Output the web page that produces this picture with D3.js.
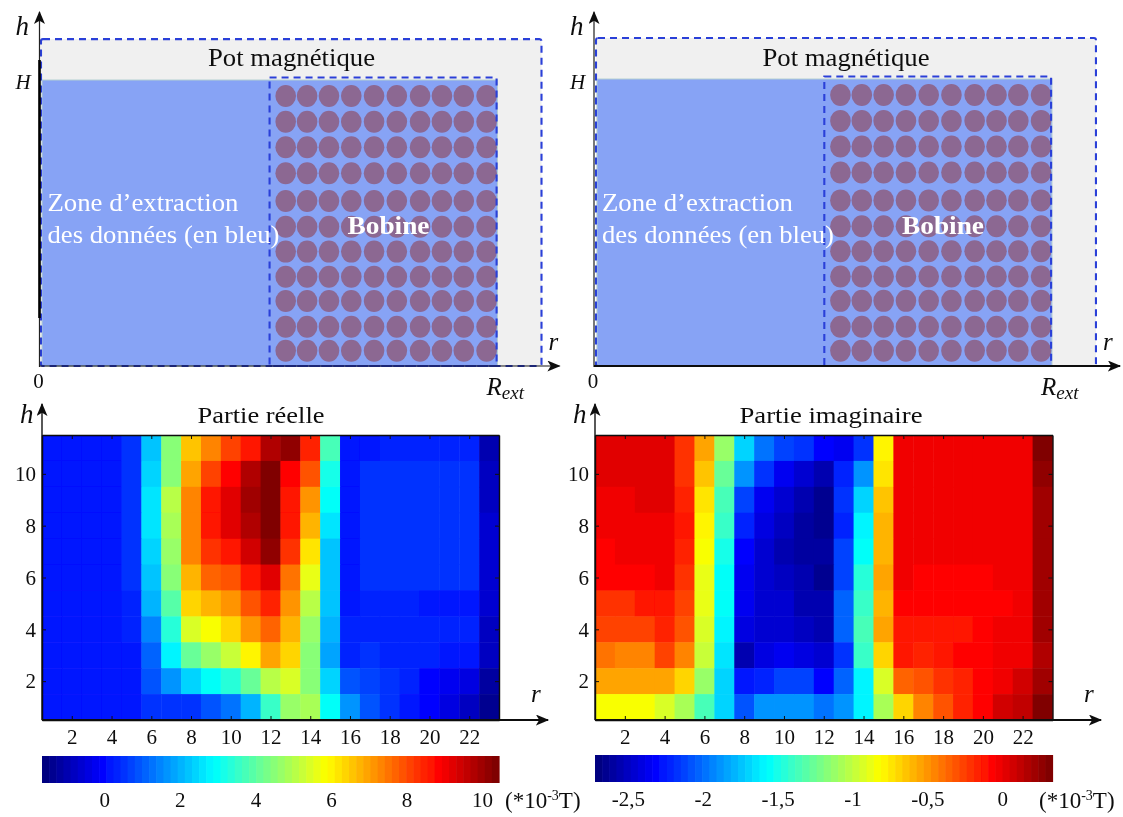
<!DOCTYPE html>
<html><head><meta charset="utf-8">
<script src="https://cdnjs.cloudflare.com/ajax/libs/d3/7.8.5/d3.min.js"></script>
<style>html,body{margin:0;padding:0;background:#fff}svg{display:block}text{font-family:"Liberation Serif",serif;fill:#111}</style>
</head><body><svg id="c" width="1123" height="817" viewBox="0 0 1123 817"></svg>
<script>
// ---- data ----
const columns = d3.range(1, 24);
const rows = d3.range(1, 12);
const xTicks = [2,4,6,8,10,12,14,16,18,20,22];
const yTicks = [2,4,6,8,10];
// rows listed from h=11 (top) to h=1 (bottom)
const realRows = [
[.15,.15,.15,.15,.5,2.2,4.4,6.6,7.4,8,8.7,9.8,10.1,8.5,3.7,.2,.2,.3,.3,.3,.25,.25,-.9],
[.15,.15,.15,.15,.6,2.35,4.4,6.9,8.1,8.9,9.85,10.45,8.9,7.9,3.2,.2,.45,.45,.45,.45,.45,.45,-.75],
[.15,.15,.15,.15,.6,2.6,5,7.3,8.7,9.3,9.9,10.45,8.7,7.2,3,.2,.45,.45,.45,.45,.45,.45,-.8],
[.15,.15,.15,.15,.6,2.6,4.95,7.4,8.6,9.15,9.8,10.4,8.6,6.8,2.6,.2,.45,.45,.45,.45,.45,.45,-.7],
[.15,.15,.15,.15,.6,2.4,4.7,7.25,8.3,8.7,9.4,10.1,8.25,6.2,2.3,.2,.45,.45,.45,.45,.45,.45,-.6],
[.15,.15,.15,.15,.6,2.3,4.4,6.85,7.8,7.9,8.6,9.3,7.6,5.6,2.3,.2,.45,.45,.45,.45,.45,.45,-.6],
[.15,.15,.15,.15,.4,1.95,4,6.3,6.8,7.2,7.85,8.5,7.1,5.1,2.25,.2,.4,.4,.4,.2,.2,.2,-.7],
[.15,.15,.15,.15,.4,1.55,3.45,5.4,5.9,6.35,7.05,7.7,6.75,4.7,1.95,.3,.3,.3,.3,.25,.25,.25,-.75],
[.15,.15,.15,.15,.2,1.15,2.75,4.15,4.7,5.3,6,6.9,6.35,4.55,1.9,.3,.45,.3,.3,.3,.1,.1,-.75],
[.1,.1,.1,.15,.15,.95,1.7,2.45,2.9,3.45,4.15,5.15,5.35,4.55,2.4,.85,.75,.55,.3,0,-.3,-.5,-1.1],
[.1,.1,.2,.2,.2,.45,.45,.6,.95,1.3,2.05,3.55,4.7,4.9,3.05,1.7,.9,.6,.15,0,-.35,-.8,-1.45]
];
const imagRows = [
[.01,.01,.01,.01,-.2,-.57,-1.1,-1.71,-2,-2.11,-2.16,-2.32,-2.37,-2.16,-.8,0,0,0,0,0,0,0,.33],
[.01,.01,.01,.01,-.2,-.65,-1.25,-1.87,-2.19,-2.34,-2.44,-2.57,-2.22,-1.87,-.73,0,0,0,0,0,0,0,.25],
[-.04,-.04,.01,.01,-.17,-.72,-1.34,-2.1,-2.38,-2.48,-2.55,-2.65,-2.16,-1.7,-.65,0,0,0,0,0,0,0,.22],
[-.04,-.04,-.04,-.04,-.14,-.78,-1.43,-2.2,-2.42,-2.5,-2.58,-2.65,-2.2,-1.6,-.6,0,0,0,0,0,0,0,.2],
[-.08,-.03,-.03,-.03,-.15,-.82,-1.5,-2.3,-2.48,-2.53,-2.58,-2.62,-2.12,-1.55,-.6,0,0,-.04,-.04,-.04,0,0,.2],
[-.08,-.08,-.08,-.04,-.2,-.9,-1.57,-2.35,-2.47,-2.5,-2.55,-2.65,-2.1,-1.45,-.53,-.01,-.05,-.05,-.05,-.05,0,0,.2],
[-.2,-.2,-.13,-.13,-.27,-.9,-1.57,-2.37,-2.48,-2.48,-2.53,-2.57,-2.02,-1.4,-.6,-.05,-.05,-.05,-.05,-.05,-.05,0,.2],
[-.25,-.25,-.25,-.15,-.32,-.95,-1.62,-2.42,-2.46,-2.46,-2.5,-2.55,-2.05,-1.38,-.57,-.1,-.1,-.1,-.1,-.05,-.02,0,.2],
[-.4,-.45,-.45,-.28,-.43,-1,-1.65,-2.55,-2.4,-2.36,-2.4,-2.48,-2.15,-1.43,-.7,-.12,-.15,-.13,-.08,-.05,0,-.02,.15],
[-.57,-.57,-.57,-.53,-.67,-1.12,-1.7,-2.28,-2.2,-2.12,-2.12,-2.32,-2.05,-1.62,-.92,-.37,-.3,-.22,-.15,-.05,0,.06,.22],
[-.82,-.82,-.82,-.95,-1.08,-1.34,-1.7,-2.08,-1.87,-1.87,-1.87,-1.98,-1.88,-1.58,-1.06,-.67,-.47,-.3,-.17,-.05,.06,.12,.33]
];
const realDomain = [-1.65, 10.45];
const imagDomain = [-2.72, 0.335];
const realBarTicks = [0,2,4,6,8,10];
const imagBarTicks = [-2.5,-2,-1.5,-1,-0.5,0];
const coilR = [.535,.582,.630,.679,.729,.779,.830,.878,.926,.976];
const coilH = [.944,.854,.765,.674,.577,.487,.400,.312,.227,.137,.053];
const lines1 = ["Zone d’extraction","des données (en bleu)"];

// ---- drawing ----
const svg = d3.select("#c");
const defs = svg.append("defs");
const mk = defs.append("marker").attr("id","arr").attr("viewBox","0 0 12 10").attr("refX",11).attr("refY",5)
  .attr("markerWidth",14).attr("markerHeight",11).attr("markerUnits","userSpaceOnUse").attr("orient","auto");
mk.append("path").attr("d","M0,0 L12,5 L0,10 L3,5 Z").attr("fill","#111");
const soft = defs.append("filter").attr("id","soft").attr("x","-2%").attr("y","-2%").attr("width","104%").attr("height","104%");
soft.append("feGaussianBlur").attr("stdDeviation",0.5);
const root = svg.append("g").attr("filter","url(#soft)");

const jetBase = d3.scaleLinear().domain([0,.125,.375,.625,.875,1])
  .range(["#000080","#0000ff","#00ffff","#ffff00","#ff0000","#800000"]).clamp(true);
const LEVELS = 64;
function jet(domain){
  const t = d3.scaleLinear().domain(domain).range([0,1]).clamp(true);
  return v => jetBase(Math.min(LEVELS-1,Math.floor(t(v)*LEVELS))/(LEVELS-1));
}
const serif = (sel,size,anchor,style,weight)=>sel.attr("font-size",size).attr("text-anchor",anchor||"start")
  .attr("font-style",style||"normal").attr("font-weight",weight||"normal");

function schematic(cfg){
  const g = root.append("g");
  const x = d3.scaleLinear().domain([0,1]).range([cfg.x0,cfg.x1]);
  const y = d3.scaleLinear().domain([0,1]).range([366,cfg.top]);
  const rPot = 1.0966, hPot = 1.143;
  g.append("rect").attr("x",x(0)-1).attr("y",y(hPot)).attr("width",x(rPot)-x(0)+1).attr("height",y(0)-y(hPot)).attr("fill","#f0f0f0");
  g.append("rect").attr("x",x(0)).attr("y",y(1)).attr("width",x(1)-x(0)).attr("height",y(0)-y(1)).attr("fill","#87a3f5").attr("stroke","#b4cfd2").attr("stroke-width",1);
  g.selectAll("g.turn").data(coilH).join("g").attr("class","turn").selectAll("ellipse").data(coilR.map(r=>r)).join("ellipse")
    .attr("cx",d=>x(d)).attr("cy",function(){return y(d3.select(this.parentNode).datum());})
    .attr("rx",10.3).attr("ry",11).attr("fill","#8c6792");
  const dash = s=>s.attr("fill","none").attr("stroke","#2c3fd8").attr("stroke-width",2.1).attr("stroke-dasharray","7 5");
  dash(g.append("rect").attr("x",x(0)-1).attr("y",y(hPot)).attr("width",x(rPot)-x(0)+1).attr("height",y(0)-y(hPot)).attr("rx",2));
  dash(g.append("rect").attr("x",x(.4996)).attr("y",y(1)-2.5).attr("width",x(.998)-x(.4996)).attr("height",y(0)-y(1)+2.5).attr("stroke","#2e55e6"));
  // axes
  g.append("line").attr("x1",cfg.ax).attr("x2",cfg.ax).attr("y1",367).attr("y2",12).attr("stroke","#222").attr("stroke-width",1.2).attr("marker-end","url(#arr)");
  g.append("line").attr("x1",cfg.ax).attr("x2",cfg.ax+cfg.arrow).attr("y1",366).attr("y2",366).attr("stroke","#111").attr("stroke-width",cfg.rw).attr("marker-end","url(#arr)");
  if(cfg.thick) g.append("line").attr("x1",cfg.ax).attr("x2",cfg.ax).attr("y1",60).attr("y2",318).attr("stroke","#000").attr("stroke-width",2.6);
  const tx = cfg.ax-39;
  serif(g.append("text").attr("x",tx+15).attr("y",35).text("h"),27,"start","italic");
  serif(g.append("text").attr("x",tx+15).attr("y",89).text("H"),21,"start","italic");
  serif(g.append("text").attr("x",tx+38).attr("y",388).text("0"),21,"middle");
  serif(g.append("text").attr("x",tx+548).attr("y",350).text("r"),25,"start","italic");
  const re = serif(g.append("text").attr("x",tx+486).attr("y",395),25,"start","italic");
  re.append("tspan").text("R");
  re.append("tspan").attr("font-size",19).attr("dy",4).text("ext");
  serif(g.append("text").attr("x",tx+291).attr("y",66).text("Pot magnétique"),25,"middle").attr("textLength",167).attr("lengthAdjust","spacingAndGlyphs");
  g.selectAll("text.zone").data(lines1).join("text").attr("class","zone").attr("x",tx+47).attr("y",(d,i)=>211+i*32).text(d=>d)
    .attr("textLength",(d,i)=>i?232:191).attr("lengthAdjust","spacingAndGlyphs").attr("font-size",25).style("fill","#fff");
  serif(g.append("text").attr("x",tx+347).attr("y",234).text("Bobine"),26,"start","normal","bold").attr("textLength",82).attr("lengthAdjust","spacingAndGlyphs").style("fill","#fff");
}

function heat(cfg){
  const g = root.append("g");
  const x = d3.scaleLinear().domain([.5,23.5]).range([cfg.x0,cfg.x1]);
  const y = d3.scaleLinear().domain([.5,11.5]).range([720,435]);
  const color = jet(cfg.domain);
  const col = d3.scaleBand().domain(columns).range([cfg.x0,cfg.x1]);
  const row = d3.scaleBand().domain(rows.slice().reverse()).range([435,720]);
  g.selectAll("g.r").data(cfg.values).join("g").attr("class","r").attr("transform",(d,i)=>`translate(0,${row(11-i)})`)
    .selectAll("rect").data(d=>d).join("rect")
    .attr("x",(d,i)=>col(columns[i])).attr("width",col.bandwidth()+.5).attr("height",row.bandwidth()+.5).attr("fill",d=>color(d));
  // inward ticks on all four sides
  const bottom = d3.axisBottom(x).tickValues(xTicks).tickSizeInner(-4).tickSizeOuter(0).tickPadding(9).tickFormat(d3.format("d"));
  const left = d3.axisLeft(y).tickValues(yTicks).tickSizeInner(-4).tickSizeOuter(0).tickPadding(6).tickFormat(d3.format("d"));
  const gb = g.append("g").attr("transform","translate(0,720)").call(bottom);
  const gl = g.append("g").attr("transform",`translate(${cfg.x0},0)`).call(left);
  g.append("g").attr("transform","translate(0,435)").call(d3.axisTop(x).tickValues(xTicks).tickSizeInner(-4).tickSizeOuter(0).tickFormat(""));
  g.append("g").attr("transform",`translate(${cfg.x1},0)`).call(d3.axisRight(y).tickValues(yTicks).tickSizeInner(-4).tickSizeOuter(0).tickFormat(""));
  [gb,gl].forEach(a=>a.selectAll("text").attr("font-size",21).attr("font-family","Liberation Serif"));
  g.selectAll(".domain").attr("stroke","#111").attr("stroke-width",1.4);
  g.selectAll(".tick line").attr("stroke","#111");
  g.append("line").attr("x1",cfg.x0).attr("x2",cfg.x0).attr("y1",720).attr("y2",404).attr("stroke","#111").attr("stroke-width",1.4).attr("marker-end","url(#arr)");
  g.append("line").attr("x1",cfg.x0).attr("x2",cfg.x0+506).attr("y1",720).attr("y2",720).attr("stroke","#111").attr("stroke-width",1.8).attr("marker-end","url(#arr)");
  serif(g.append("text").attr("x",cfg.x0-22).attr("y",423).text("h"),27,"start","italic");
  serif(g.append("text").attr("x",cfg.x0+489).attr("y",702).text("r"),25,"start","italic");
  serif(g.append("text").attr("x",cfg.title).attr("y",423).text(cfg.label),24,"middle").attr("textLength",cfg.titleLen).attr("lengthAdjust","spacingAndGlyphs");
  // colour bar
  const bar = d3.scaleLinear().domain(cfg.domain).range([cfg.x0,cfg.x1]);
  const step = (cfg.domain[1]-cfg.domain[0])/LEVELS;
  g.append("g").selectAll("rect").data(d3.range(LEVELS)).join("rect")
    .attr("x",i=>bar(cfg.domain[0]+i*step)).attr("width",bar(step)-bar(0)+.6)
    .attr("y",cfg.barY).attr("height",27).attr("fill",i=>color(cfg.domain[0]+(i+.5)*step));
  const ga = g.append("g").attr("transform",`translate(0,${cfg.barY+27})`)
    .call(d3.axisBottom(bar).tickValues(cfg.barTicks).tickSize(0).tickPadding(9).tickFormat(cfg.fmt));
  ga.select(".domain").remove();
  ga.selectAll("text").attr("font-size",21).attr("font-family","Liberation Serif");
  const u = serif(g.append("text").attr("x",cfg.unit).attr("y",808),23,"start");
  u.append("tspan").text("(*10");
  u.append("tspan").attr("font-size",14).attr("dy",-8).text("-3");
  u.append("tspan").attr("dy",8).text("T)");
}

schematic({x0:42,x1:497.5,top:80,ax:39.5,arrow:520,rw:1.2,thick:true});
schematic({x0:597,x1:1052,top:79,ax:594,arrow:526,rw:2.2,thick:false});
heat({x0:42,x1:499,domain:realDomain,values:realRows,title:261,titleLen:127,label:"Partie réelle",barY:756,barTicks:realBarTicks,fmt:d3.format("d"),unit:505});
heat({x0:595,x1:1052.5,domain:imagDomain,values:imagRows,title:831,titleLen:183,label:"Partie imaginaire",barY:755,barTicks:imagBarTicks,fmt:d=>String(d).replace(".",","),unit:1039});
</script></body></html>
